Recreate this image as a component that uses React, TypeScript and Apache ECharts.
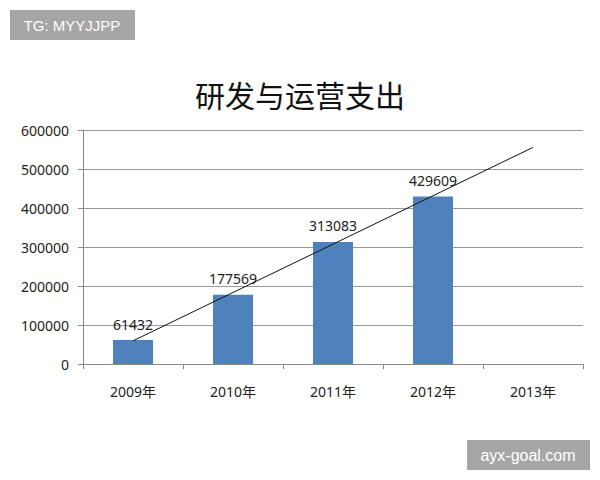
import React, { useEffect, useRef } from 'react';
import * as echarts from 'echarts';

const categories = ['2009年', '2010年', '2011年', '2012年', '2013年'];
const spending = [61432, 177569, 313083, 429609, null];
// trend line: start over 2009, end over 2013
const trend = [59400, null, null, null, 555400];
const yTicks = [0, 100000, 200000, 300000, 400000, 500000, 600000];

const App: React.FC = () => {
  const chartRef = useRef<HTMLDivElement>(null);

  useEffect(() => {
    const chart = echarts.init(chartRef.current!, undefined, { renderer: 'svg' });

    chart.setOption({
      animation: false,
      backgroundColor: '#ffffff',
      title: {
        text: '研发与运营支出',
        left: 'center',
        top: 74,
        textStyle: {
          fontFamily: '"Noto Sans CJK SC", serif',
          fontSize: 30,
          fontWeight: 'normal',
          color: '#111',
        },
      },
      grid: { left: 83, right: 17, top: 130, bottom: 116 },
      xAxis: {
        type: 'category',
        data: categories,
        boundaryGap: true,
        axisLine: { lineStyle: { color: '#888', width: 1 } },
        axisTick: { show: true, length: 5, lineStyle: { color: '#888' } },
        axisLabel: {
          margin: 20,
          fontFamily: '"Noto Sans", "Noto Sans CJK SC", sans-serif',
          fontSize: 14,
          color: '#222',
        },
      },
      yAxis: {
        type: 'value',
        min: yTicks[0],
        max: yTicks[yTicks.length - 1],
        interval: 100000,
        axisLine: { show: true, lineStyle: { color: '#888', width: 1 } },
        axisTick: { show: true, length: 5, lineStyle: { color: '#888' } },
        splitLine: { lineStyle: { color: '#999', width: 1 } },
        axisLabel: {
          margin: 14,
          fontFamily: '"Noto Sans", sans-serif',
          fontSize: 14,
          color: '#222',
          formatter: (v: number) => String(v),
        },
      },
      series: [
        {
          name: '支出',
          type: 'bar',
          data: spending,
          barWidth: 40,
          itemStyle: { color: '#4f81bd' },
          label: {
            show: true,
            position: 'top',
            distance: 9,
            fontFamily: '"Noto Sans", sans-serif',
            fontSize: 14,
            color: '#222',
          },
        },
        {
          name: '趋势',
          type: 'line',
          data: trend,
          connectNulls: true,
          showSymbol: false,
          symbol: 'none',
          lineStyle: { color: '#111', width: 1 },
          z: 5,
        },
      ],
      graphic: [
        {
          type: 'rect',
          shape: { x: 10, y: 10, width: 125, height: 30 },
          style: { fill: '#a6a6a6' },
        },
        {
          type: 'text',
          x: 72,
          y: 25,
          style: {
            text: 'TG: MYYJJPP',
            fill: '#ffffff',
            font: '15px "Liberation Sans", sans-serif',
            textAlign: 'center',
            textVerticalAlign: 'middle',
          },
        },
        {
          type: 'rect',
          shape: { x: 467, y: 440, width: 123, height: 30 },
          style: { fill: '#a6a6a6' },
        },
        {
          type: 'text',
          x: 528,
          y: 455,
          style: {
            text: 'ayx-goal.com',
            fill: '#ffffff',
            font: '16px "Liberation Sans", sans-serif',
            textAlign: 'center',
            textVerticalAlign: 'middle',
          },
        },
      ],
    });

    return () => {
      chart.dispose();
    };
  }, []);

  return (
    <div
      ref={chartRef}
      style={{ position: 'fixed', left: 0, top: 0, width: '600px', height: '480px' }}
    />
  );
};

export default App;
